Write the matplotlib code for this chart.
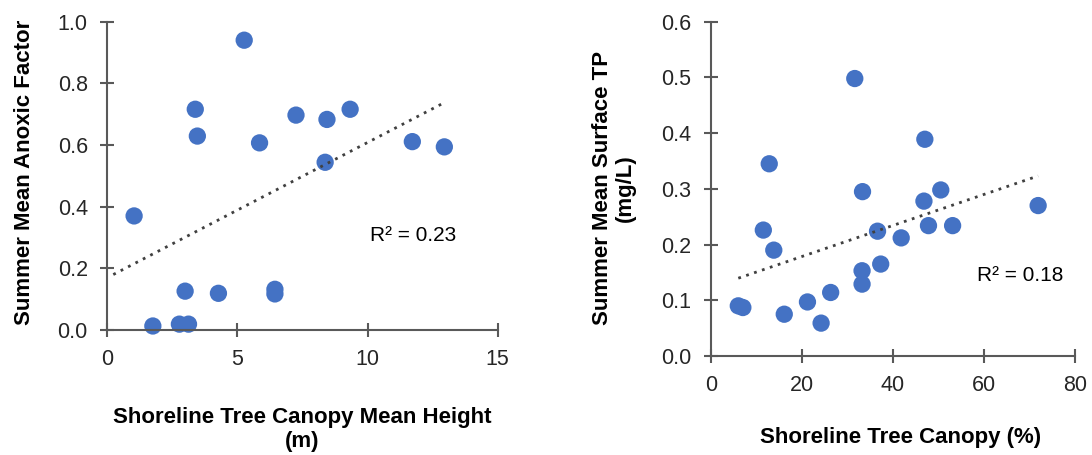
import numpy as np
import matplotlib
matplotlib.use("Agg")
import matplotlib.pyplot as plt

plt.rcParams['font.family'] = ['Liberation Sans', 'DejaVu Sans']

# Left panel: canopy mean height (m) vs summer mean anoxic factor
height_m = [5.26, 3.38, 3.46, 5.85, 7.25, 8.44, 9.33, 8.37, 11.72, 12.95,
            1.03, 2.99, 4.27, 6.44, 6.44, 1.75, 2.77, 3.12]
anoxic = [0.94, 0.716, 0.629, 0.607, 0.697, 0.683, 0.716, 0.544, 0.611, 0.594,
          0.370, 0.126, 0.119, 0.132, 0.117, 0.013, 0.019, 0.019]

# Right panel: canopy cover (%) vs summer mean surface TP (mg/L)
canopy_pct = [31.6, 47.0, 12.8, 33.3, 50.5, 46.8, 71.9, 11.5, 36.6, 47.8, 53.1,
              41.8, 13.8, 37.3, 33.2, 33.2, 26.3, 21.2, 16.1, 24.2, 6.0, 7.0]
tp = [0.498, 0.389, 0.345, 0.295, 0.298, 0.278, 0.270, 0.226, 0.224, 0.234, 0.234,
      0.212, 0.190, 0.165, 0.153, 0.129, 0.114, 0.097, 0.075, 0.059, 0.090, 0.087]

r2_left = "R² = 0.23"
r2_right = "R² = 0.18"

left_xticks = [0, 5, 10, 15]
left_yticks = [0.0, 0.2, 0.4, 0.6, 0.8, 1.0]
right_xticks = [0, 20, 40, 60, 80]
right_yticks = [0.0, 0.1, 0.2, 0.3, 0.4, 0.5, 0.6]

# trendline "forecast backward" option (x units), as in the spreadsheet trendline
left_backcast = 0.8
right_backcast = 0.0

W, H = 1092, 455
fig = plt.figure(figsize=(W / 100, H / 100), dpi=100)

def px_axes(x0, y0, x1, y1):
    return fig.add_axes([x0 / W, 1 - y1 / H, (x1 - x0) / W, (y1 - y0) / H])

ax1 = px_axes(107.3, 21.7, 497.7, 330)
ax2 = px_axes(711, 21.7, 1075, 356)

blue = '#4472C4'
spine_c = '#595959'
fs = 15.5

def style(ax, xt, yt, yfmt):
    for s in ['top', 'right']:
        ax.spines[s].set_visible(False)
    for s in ['left', 'bottom']:
        ax.spines[s].set_color(spine_c)
        ax.spines[s].set_linewidth(1.5)
    ax.set_xticks(xt)
    ax.set_yticks(yt)
    ax.set_xlim(xt[0], xt[-1])
    ax.set_ylim(yt[0], yt[-1])
    ax.set_yticklabels([yfmt.format(v) for v in yt])
    ax.tick_params(direction='inout', length=10, width=1.5, color=spine_c,
                   labelsize=fs, labelcolor='#262626', pad=9)
    for sp in ax.spines.values():
        sp.set_clip_on(False)

def trend(ax, x, y, backcast):
    x = np.asarray(x); y = np.asarray(y)
    m, b = np.polyfit(x, y, 1)
    xs = np.array([x.min() - backcast, x.max()])
    ax.plot(xs, m * xs + b, linestyle=(0, (1, 2)), color='#404040', lw=2, zorder=3)

style(ax1, left_xticks, left_yticks, "{:.1f}")
style(ax2, right_xticks, right_yticks, "{:.1f}")

ax1.scatter(height_m, anoxic, s=155, color=blue, edgecolors='none', zorder=2, clip_on=False)
trend(ax1, height_m, anoxic, left_backcast)
ax1.text(10.1, 0.305, r2_left, fontsize=15, va='center', ha='left', color='#000000')

ax2.scatter(canopy_pct, tp, s=155, color=blue, edgecolors='none', zorder=2, clip_on=False)
trend(ax2, canopy_pct, tp, right_backcast)
ax2.text(58.4, 0.145, r2_right, fontsize=15, va='center', ha='left', color='#000000')

lab = dict(fontsize=16, fontweight='bold', ha='center', va='center', color='#000000')
fig.text(302.5 / W, 1 - 417 / H, "Shoreline Tree Canopy Mean Height", **lab)
fig.text(302.5 / W, 1 - 442 / H, "(m)", **lab)
fig.text(25 / W, 1 - 172 / H, "Summer Mean Anoxic Factor", rotation=90, **lab)
fig.text(901 / W, 1 - 437 / H, "Shoreline Tree Canopy (%)", **lab)
fig.text(602 / W, 1 - 188 / H, "Summer Mean Surface TP", rotation=90, **lab)
fig.text(625 / W, 1 - 188 / H, "(mg/L)", rotation=90, **lab)

fig.savefig('out.png', dpi=100)
